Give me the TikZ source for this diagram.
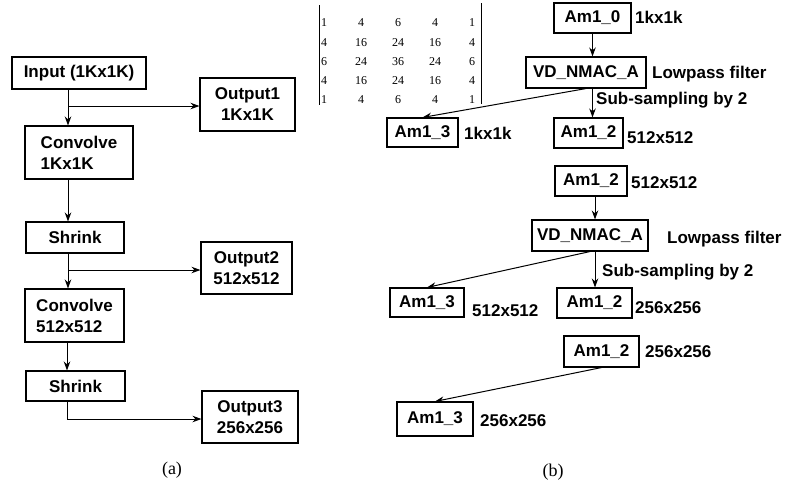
\documentclass[tikz,border=0pt]{standalone}
\usepackage{fontspec}
\setmainfont{Liberation Serif}
\setsansfont{Liberation Sans}
\usetikzlibrary{arrows.meta,positioning}

\tikzset{
    blk/.style={draw, line width=1.1pt, inner sep=2pt,
        font=\sffamily\bfseries\fontsize{17}{21}\selectfont},
    wh/.style 2 args={minimum width=#1pt, minimum height=#2pt},
    lbl/.style={inner sep=0pt, anchor=base west,
        font=\sffamily\bfseries\fontsize{17}{21}\selectfont},
    arr/.style={-{Stealth[length=9pt,width=6.5pt]}, line width=1pt},
    num/.style={inner sep=0pt, font=\fontsize{12}{14}\selectfont},
    captxt/.style={font=\fontsize{18}{20}\selectfont}
}

\begin{document}
\begin{tikzpicture}[x=1pt, y=-1pt]

    \useasboundingbox (0,0) rectangle (787,485);

    % (a) chain
    \node[blk, wh={134}{32}] (input) at (79,73) {Input (1Kx1K)};
    \node[blk, wh={95}{53}, align=center] (out1) at (247.5,104.5) {Output1\\1Kx1K};
    \node[blk, wh={108}{53}, align=left] (conv1) at (79,152.5) {Convolve\\1Kx1K};
    \node[blk, wh={98}{31}] (shr1) at (75,237.5) {Shrink};
    \node[blk, wh={91}{52}, align=center] (out2) at (246.5,268) {Output2\\512x512};
    \node[blk, wh={99}{53}, align=left] (conv2) at (74.5,315.5) {Convolve\\512x512};
    \node[blk, wh={99}{30}] (shr2) at (75.5,386) {Shrink};
    \node[blk, wh={96}{52}, align=center] (out3) at (250,417) {Output3\\256x256};

    % Branch points
    \coordinate (b1) at (68,106);
    \coordinate (b2) at (68,270);
    \coordinate (b3) at (67,419);

    \draw[arr] (input.south -| b1) -- (conv1.north -| b1);
    \draw[arr] (b1) -- (b1 -| out1.west);
    \draw[arr] (conv1.south -| b1) -- (shr1.north -| b1);
    \draw[arr] (shr1.south -| b2) -- (conv2.north -| b2);
    \draw[arr] (b2) -- (b2 -| out2.west);
    \draw[arr] (conv2.south -| b3) -- (shr2.north -| b3);
    \draw[arr] (shr2.south -| b3) -- (b3) -- (b3 -| out3.west);

    % Kernel
    \foreach \row [count=\r] in {{1,4,6,4,1},{4,16,24,16,4},{6,24,36,24,6},{4,16,24,16,4},{1,4,6,4,1}} {
        \foreach \v [count=\c] in \row {
            \node[num] (m-\r-\c) at ({324+(\c-1)*37},{23+(\r-1)*19.25}) {\v};
        }
    }
    \draw[line width=1pt] (319,5) -- (319,105);
    \draw[line width=1pt] (481,3) -- (481,104);

    % (b) level 1
    \node[blk, wh={77}{30}] (am0) at (592.5,18) {Am1\_0};
    \node[blk, wh={120}{31}] (vd1) at (586,72.5) {VD\_NMAC\_A};
    \node[blk, wh={71}{29}] (am3a) at (422.5,132.5) {Am1\_3};
    \node[blk, wh={69}{30}] (am2a) at (588.5,133) {Am1\_2};

    \node[lbl] (s0) at (635,23.3) {1kx1k};
    \node[lbl] (lp1) at (652,78.3) {Lowpass filter};
    \node[lbl] (ss1) at (596,104) {Sub-sampling by 2};
    \node[lbl] (s3a) at (464,139.3) {1kx1k};
    \node[lbl] (s2a) at (627,143.3) {512x512};

    \draw[arr] (am0.south) -- (am0.south |- vd1.north);
    \draw[arr] (vd1.south -| am0.south) -- (am2a.north -| am0.south);
    \draw[arr] (vd1.south) -- (am3a.north);

    % (b) level 2
    \coordinate (v2) at (595,0);
    \node[blk, wh={72}{30}] (am2b) at (591,181) {Am1\_2};
    \node[blk, wh={116}{31}] (vd2) at (590,235.5) {VD\_NMAC\_A};
    \node[blk, wh={74}{29}] (am3b) at (427,302.5) {Am1\_3};
    \node[blk, wh={75}{30}] (am2c) at (594.5,303) {Am1\_2};

    \node[lbl] (s2b) at (631,188.3) {512x512};
    \node[lbl] (lp2) at (667,243.3) {Lowpass filter};
    \node[lbl] (ss2) at (602,276) {Sub-sampling by 2};
    \node[lbl] (s3b) at (472,316.7) {512x512};
    \node[lbl] (s2c) at (635,313.3) {256x256};

    \draw[arr] (am2b.south -| v2) -- (vd2.north -| v2);
    \draw[arr] (vd2.south -| v2) -- (am2c.north -| v2);
    \draw[arr] (vd2.south) -- (am3b.north);

    % (b) level 3
    \node[blk, wh={75}{31}] (am2d) at (601.5,351.5) {Am1\_2};
    \node[blk, wh={76}{34}] (am3c) at (435,419) {Am1\_3};

    \node[lbl] (s2d) at (645,357.3) {256x256};
    \node[lbl] (s3c) at (480,426) {256x256};

    \draw[arr] (am2d.south) -- (am3c.north);

    % Captions
    \node[captxt] (capa) at (172,470) {(a)};
    \node[captxt] (capb) at (553,472) {(b)};

\end{tikzpicture}
\end{document}
